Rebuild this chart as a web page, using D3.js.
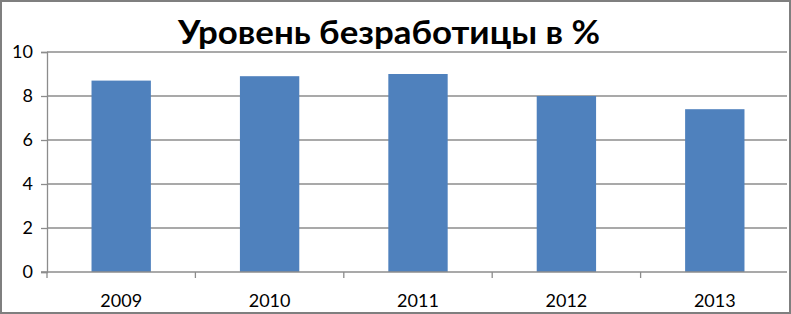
<!DOCTYPE html>
<html><head><meta charset="utf-8">
<script src="https://cdn.jsdelivr.net/npm/d3@7"></script>
<style>body{margin:0;background:#fff}svg{display:block}</style>
</head><body>
<script>
const title = "Уровень безработицы в %";
const categories = ["2009", "2010", "2011", "2012", "2013"];
const values = [8.7, 8.9, 9.0, 8.0, 7.4];
const yTicks = [0, 2, 4, 6, 8, 10];

const W = 791, H = 314;
const mLeft = 47, mRight = 789, mTop = 52, mBottom = 272;
const svg = d3.select("body").append("svg").attr("width", W).attr("height", H);

svg.append("rect").attr("x", 1).attr("y", 1).attr("width", W - 2).attr("height", H - 2)
  .attr("fill", "#fff").attr("stroke", "#7f7f7f").attr("stroke-width", 2);

const x = d3.scaleBand().domain(categories).range([mLeft, mRight]).paddingInner(0.6).paddingOuter(0.3);
const xb = d3.scaleBand().domain(categories).range([mLeft, mRight]);
const y = d3.scaleLinear().domain([0, 10]).range([mBottom, mTop]);

// gridlines
svg.append("g").selectAll("line").data(yTicks.filter(d => d > 0)).join("line")
  .attr("x1", mLeft).attr("x2", 787).attr("y1", d => y(d)).attr("y2", d => y(d))
  .attr("stroke", "#8c8c8c").attr("stroke-width", 1.3);

// bars
svg.append("g").selectAll("rect").data(values).join("rect")
  .attr("x", (d, i) => x(categories[i])).attr("width", x.bandwidth())
  .attr("y", d => y(d)).attr("height", d => y(0) - y(d))
  .attr("fill", "#4f81bd");

// y axis
const yAxis = svg.append("g").attr("transform", `translate(${mLeft},0)`)
  .call(d3.axisLeft(y).tickValues(yTicks).tickSize(6).tickPadding(8));
yAxis.select(".domain").attr("stroke", "#8c8c8c").attr("stroke-width", 1.3);
yAxis.selectAll(".tick line").attr("stroke", "#8c8c8c").attr("stroke-width", 1.3);
yAxis.selectAll("text").attr("font-family", "Lato, 'Open Sans', sans-serif").attr("font-size", 18).attr("fill", "#000");

// x axis
const xg = svg.append("g").attr("transform", `translate(0,${mBottom})`);
xg.append("line").attr("x1", mLeft - 6).attr("x2", 787).attr("y1", 0).attr("y2", 0)
  .attr("stroke", "#8c8c8c").attr("stroke-width", 1.3);
xg.selectAll("line.tk").data(categories).join("line").attr("class", "tk")
  .attr("x1", d => xb(d)).attr("x2", d => xb(d)).attr("y1", 0).attr("y2", 6)
  .attr("stroke", "#8c8c8c").attr("stroke-width", 1.3);
xg.selectAll("text").data(categories).join("text")
  .attr("x", d => xb(d) + xb.bandwidth() / 2).attr("y", 35)
  .attr("text-anchor", "middle")
  .attr("font-family", "Lato, 'Open Sans', sans-serif").attr("font-size", 18).attr("fill", "#000")
  .text(d => d);

// title
svg.append("text").attr("x", 389).attr("y", 44).attr("text-anchor", "middle")
  .attr("font-family", "Lato, 'Open Sans', sans-serif").attr("font-weight", "bold")
  .attr("font-size", 33).attr("fill", "#000")
  .attr("textLength", 422).attr("lengthAdjust", "spacingAndGlyphs")
  .text(title);
</script>
</body></html>
